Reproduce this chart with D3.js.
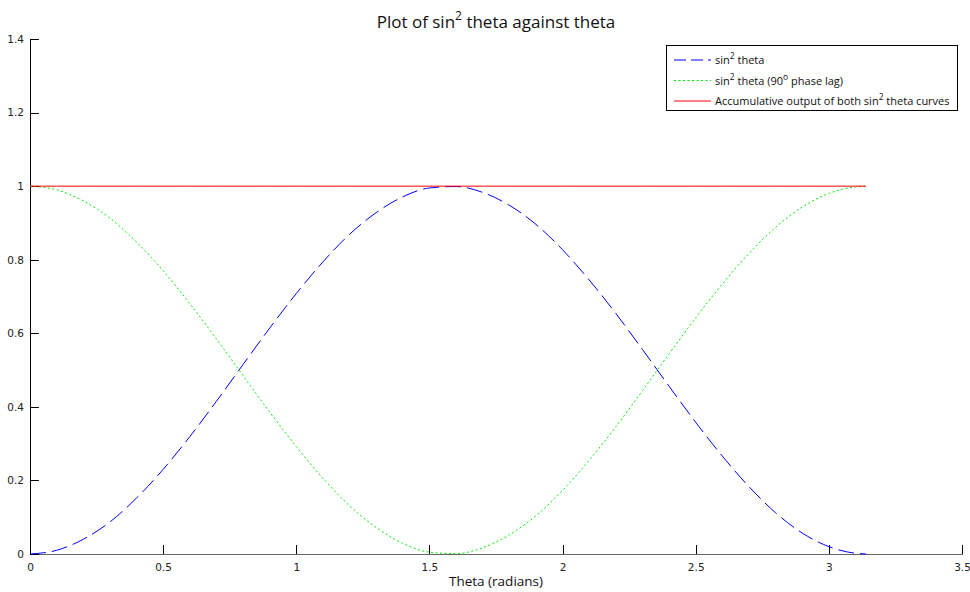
<!DOCTYPE html>
<html>
<head>
<meta charset="utf-8">
<script src="https://cdn.jsdelivr.net/npm/d3@7"></script>
<style>
  body { margin: 0; background: #fff; }
  svg { display: block; }
  .tick-label { font-family: "DejaVu Sans", sans-serif; font-size: 10.5px; fill: #222; }
  .title, .axis-title, .legend-text { font-family: "Open Sans", "Noto Sans", sans-serif; fill: #111; }
</style>
</head>
<body>
<svg id="chart" width="970" height="592"></svg>
<script>
// theta samples (radians)
const theta = [0, 0.1, 0.2, 0.3, 0.4, 0.5, 0.6, 0.7, 0.8, 0.9, 1.0, 1.1, 1.2, 1.3, 1.4, 1.5,
  1.6, 1.7, 1.8, 1.9, 2.0, 2.1, 2.2, 2.3, 2.4, 2.5, 2.6, 2.7, 2.8, 2.9, 3.0, 3.1, 3.14];

const sinSq = [0, 0.01, 0.04, 0.087, 0.152, 0.23, 0.319, 0.415, 0.515, 0.614, 0.708, 0.794,
  0.869, 0.928, 0.971, 0.995, 0.999, 0.983, 0.948, 0.896, 0.827, 0.745, 0.654, 0.556, 0.456,
  0.358, 0.266, 0.183, 0.112, 0.057, 0.02, 0.002, 0];

const sinSqLag = [1, 0.99, 0.96, 0.913, 0.848, 0.77, 0.681, 0.585, 0.485, 0.386, 0.292, 0.206,
  0.131, 0.072, 0.029, 0.005, 0.001, 0.017, 0.052, 0.104, 0.173, 0.255, 0.346, 0.444, 0.544,
  0.642, 0.734, 0.817, 0.888, 0.943, 0.98, 0.998, 1];

const total = [1, 1, 1, 1, 1, 1, 1, 1, 1, 1, 1, 1, 1, 1, 1, 1,
  1, 1, 1, 1, 1, 1, 1, 1, 1, 1, 1, 1, 1, 1, 1, 1, 1];

const xTicks = [0, 0.5, 1, 1.5, 2, 2.5, 3, 3.5];
const yTicks = [0, 0.2, 0.4, 0.6, 0.8, 1, 1.2, 1.4];

const seriesList = [
  { name: "sin", values: sinSq, color: "#0000ff", dash: "16,6" },
  { name: "lag", values: sinSqLag, color: "#00f000", dash: "2,2.5" },
  { name: "sum", values: total, color: "#ff0000", dash: null },
];

const svg = d3.select("#chart");
const margin = { left: 30, right: 8, top: 39, bottom: 38 };
const width = 970, height = 592;

const x = d3.scaleLinear().domain([0, 3.5]).range([margin.left, width - margin.right]);
const y = d3.scaleLinear().domain([0, 1.4]).range([height - margin.bottom, margin.top]);

// axes, ticks point inward
const xAxis = svg.append("g")
  .attr("transform", `translate(0,${y(0)})`)
  .call(d3.axisBottom(x).tickValues(xTicks).tickSize(-9).tickFormat(d3.format("")).tickPadding(8));
const yAxis = svg.append("g")
  .attr("transform", `translate(${x(0)},0)`)
  .call(d3.axisLeft(y).tickValues(yTicks).tickSize(-9).tickFormat(d3.format("")).tickPadding(6));

[xAxis, yAxis].forEach((ax) => {
  ax.select(".domain").attr("stroke", "#000").attr("shape-rendering", "crispEdges");
  ax.selectAll(".tick line").attr("stroke", "#000").attr("shape-rendering", "crispEdges");
  ax.selectAll(".tick text").attr("class", "tick-label").attr("font-size", null).attr("font-family", null).attr("fill", null);
});
xAxis.select(".domain").attr("stroke", "#666");
xAxis.selectAll(".tick text").attr("dy", "0.9em");

const line = d3.line()
  .x((d, i) => x(theta[i]))
  .y((d) => y(d))
  .curve(d3.curveMonotoneX);

svg.append("g")
  .selectAll("path")
  .data(seriesList)
  .join("path")
  .attr("fill", "none")
  .attr("stroke", (d) => d.color)
  .attr("stroke-width", 1)
  .attr("stroke-dasharray", (d) => d.dash)
  .attr("d", (d) => line(d.values));

// title
const title = svg.append("text")
  .attr("class", "title")
  .attr("x", 496)
  .attr("y", 28)
  .attr("text-anchor", "middle")
  .attr("font-size", 17);
title.append("tspan").text("Plot of sin");
title.append("tspan").attr("dy", -8).attr("font-size", 12).text("2");
title.append("tspan").attr("dy", 8).text(" theta against theta");

svg.append("text")
  .attr("class", "axis-title")
  .attr("x", 496)
  .attr("y", 586)
  .attr("text-anchor", "middle")
  .attr("font-size", 13.5)
  .text("Theta (radians)");

// legend
const legend = svg.append("g");
legend.append("rect")
  .attr("x", 666.5).attr("y", 45.5).attr("width", 291).attr("height", 65)
  .attr("fill", "#fff").attr("stroke", "#000").attr("stroke-width", 1);

const legendItems = [
  { series: seriesList[0], parts: ["sin", "2", " theta"] },
  { series: seriesList[1], parts: ["sin", "2", " theta (90", "o", " phase lag)"] },
  { series: seriesList[2], parts: ["Accumulative output of both sin", "2", " theta curves"] },
];

legendItems.forEach((item, i) => {
  const yy = 60 + i * 20.5;
  legend.append("line")
    .attr("x1", 674).attr("x2", 711).attr("y1", yy).attr("y2", yy)
    .attr("stroke", item.series.color)
    .attr("stroke-dasharray", item.series.name === "sin" ? "12,5" : item.series.dash);
  const t = legend.append("text")
    .attr("class", "legend-text")
    .attr("x", 715)
    .attr("y", yy + 4)
    .attr("font-size", 11);
  item.parts.forEach((p, j) => {
    const sup = j % 2 === 1;
    t.append("tspan")
      .attr("dy", j === 0 ? 0 : (sup ? -5 : 5))
      .attr("font-size", sup ? 8.5 : null)
      .text(p);
  });
});
</script>
</body>
</html>
